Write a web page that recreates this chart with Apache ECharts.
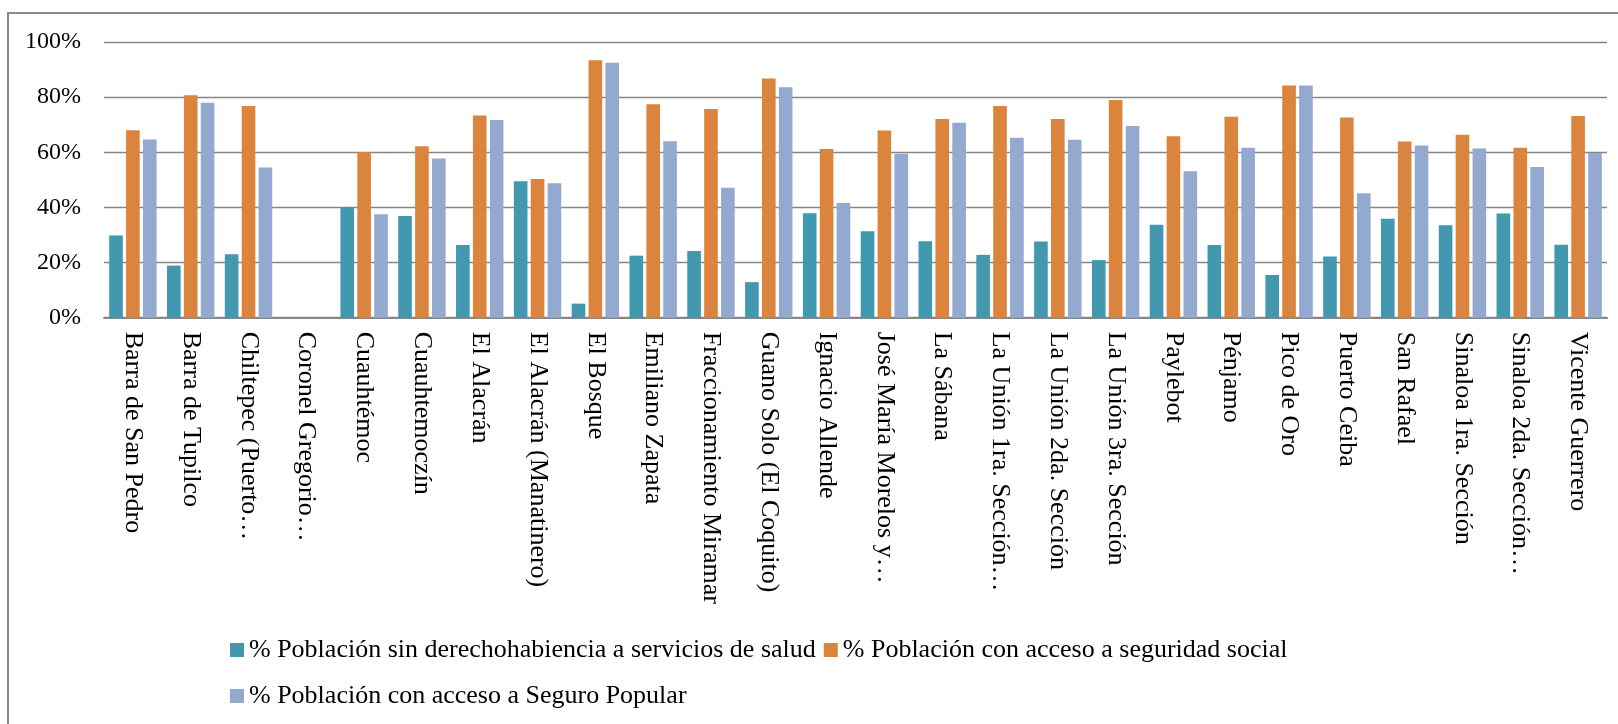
<!DOCTYPE html>
<html>
<head>
<meta charset="utf-8">
<script src="https://cdn.jsdelivr.net/npm/echarts@6/dist/echarts.min.js"></script>
<style>
  html, body { margin: 0; padding: 0; background: #ffffff; }
  #chart { width: 1618px; height: 724px; }
</style>
</head>
<body>
<div id="chart"></div>
<script>
// Localidades
const categories = [
  "Barra de San Pedro", "Barra de Tupilco", "Chiltepec (Puerto…", "Coronel Gregorio…",
  "Cuauhtémoc", "Cuauhtemoczín", "El Alacrán", "El Alacrán (Manatinero)", "El Bosque",
  "Emiliano Zapata", "Fraccionamiento Miramar", "Guano Solo (El Coquito)", "Ignacio Allende",
  "José María Morelos y…", "La Sábana", "La Unión 1ra. Sección…", "La Unión 2da. Sección",
  "La Unión 3ra. Sección", "Paylebot", "Pénjamo", "Pico de Oro", "Puerto Ceiba",
  "San Rafael", "Sinaloa 1ra. Sección", "Sinaloa 2da. Sección…", "Vicente Guerrero"
];

const seriesNames = [
  "% Población sin derechohabiencia a servicios de salud",
  "% Población con acceso a seguridad social",
  "% Población con acceso a Seguro Popular"
];

// Porcentajes por localidad
const sinDerechohabiencia = [29.8, 18.9, 23.0, 0, 40.0, 36.9, 26.4, 49.5, 5.1, 22.5, 24.2, 12.9, 37.9,
  31.4, 27.7, 22.8, 27.6, 20.9, 33.7, 26.4, 15.5, 22.2, 35.9, 33.5, 37.8, 26.5];
const seguridadSocial = [68.0, 80.7, 76.8, 0, 60.0, 62.2, 73.3, 50.3, 93.4, 77.4, 75.7, 86.8, 61.2,
  67.9, 72.1, 76.8, 72.1, 79.0, 65.8, 72.9, 84.2, 72.6, 63.9, 66.4, 61.6, 73.2];
const seguroPopular = [64.6, 78.0, 54.5, 0, 37.5, 57.7, 71.7, 48.8, 92.5, 64.0, 47.1, 83.6, 41.6,
  59.5, 70.7, 65.3, 64.5, 69.5, 53.1, 61.6, 84.2, 45.1, 62.5, 61.4, 54.7, 59.7];

const yTicks = [0, 20, 40, 60, 80, 100];

const colors = ["#4198AF", "#DB843D", "#93A9CF"];
const FONT = "'Liberation Serif', 'DejaVu Serif', serif";

const chart = echarts.init(document.getElementById("chart"), null, { renderer: "canvas" });

const mkSeries = (name, data, color) => ({
  name: name,
  type: "bar",
  data: data,
  barGap: "24%",
  barCategoryGap: "18%",
  itemStyle: { color: color },
  emphasis: { disabled: true }
});

const legendBase = {
  icon: "rect",
  itemWidth: 14,
  itemHeight: 14,
  itemGap: 8,
  padding: 0,
  orient: "horizontal",
  textStyle: { fontFamily: FONT, fontSize: 26, color: "#000", lineHeight: 30 }
};

chart.setOption({
  animation: false,
  backgroundColor: "#ffffff",
  color: colors,
  graphic: [{
    type: "rect",
    shape: { x: 8, y: 13, width: 1700, height: 900 },
    style: { fill: "none", stroke: "#8a8a8a", lineWidth: 2 },
    silent: true,
    z: -10
  }],
  grid: { left: 104, right: 11, top: 42, height: 275.7, containLabel: false },
  legend: [
    Object.assign({}, legendBase, { data: [seriesNames[0], seriesNames[1]], left: 230, top: 635 }),
    Object.assign({}, legendBase, { data: [seriesNames[2]], left: 230, top: 681 })
  ],
  xAxis: {
    type: "category",
    data: categories,
    axisLine: { lineStyle: { color: "#868686", width: 2 } },
    axisTick: { show: false },
    axisLabel: {
      interval: 0,
      rotate: -90,
      margin: 14,
      fontFamily: FONT,
      fontSize: 26,
      color: "#000"
    }
  },
  yAxis: {
    type: "value",
    min: yTicks[0],
    max: yTicks[yTicks.length - 1],
    interval: 20,
    axisLine: { show: false },
    axisTick: { show: false },
    splitLine: { lineStyle: { color: "#868686", width: 1.4 } },
    axisLabel: {
      margin: 23,
      fontFamily: FONT,
      fontSize: 24,
      color: "#000",
      formatter: "{value}%"
    }
  },
  series: [
    mkSeries(seriesNames[0], sinDerechohabiencia, colors[0]),
    mkSeries(seriesNames[1], seguridadSocial, colors[1]),
    mkSeries(seriesNames[2], seguroPopular, colors[2])
  ]
});
</script>
</body>
</html>
